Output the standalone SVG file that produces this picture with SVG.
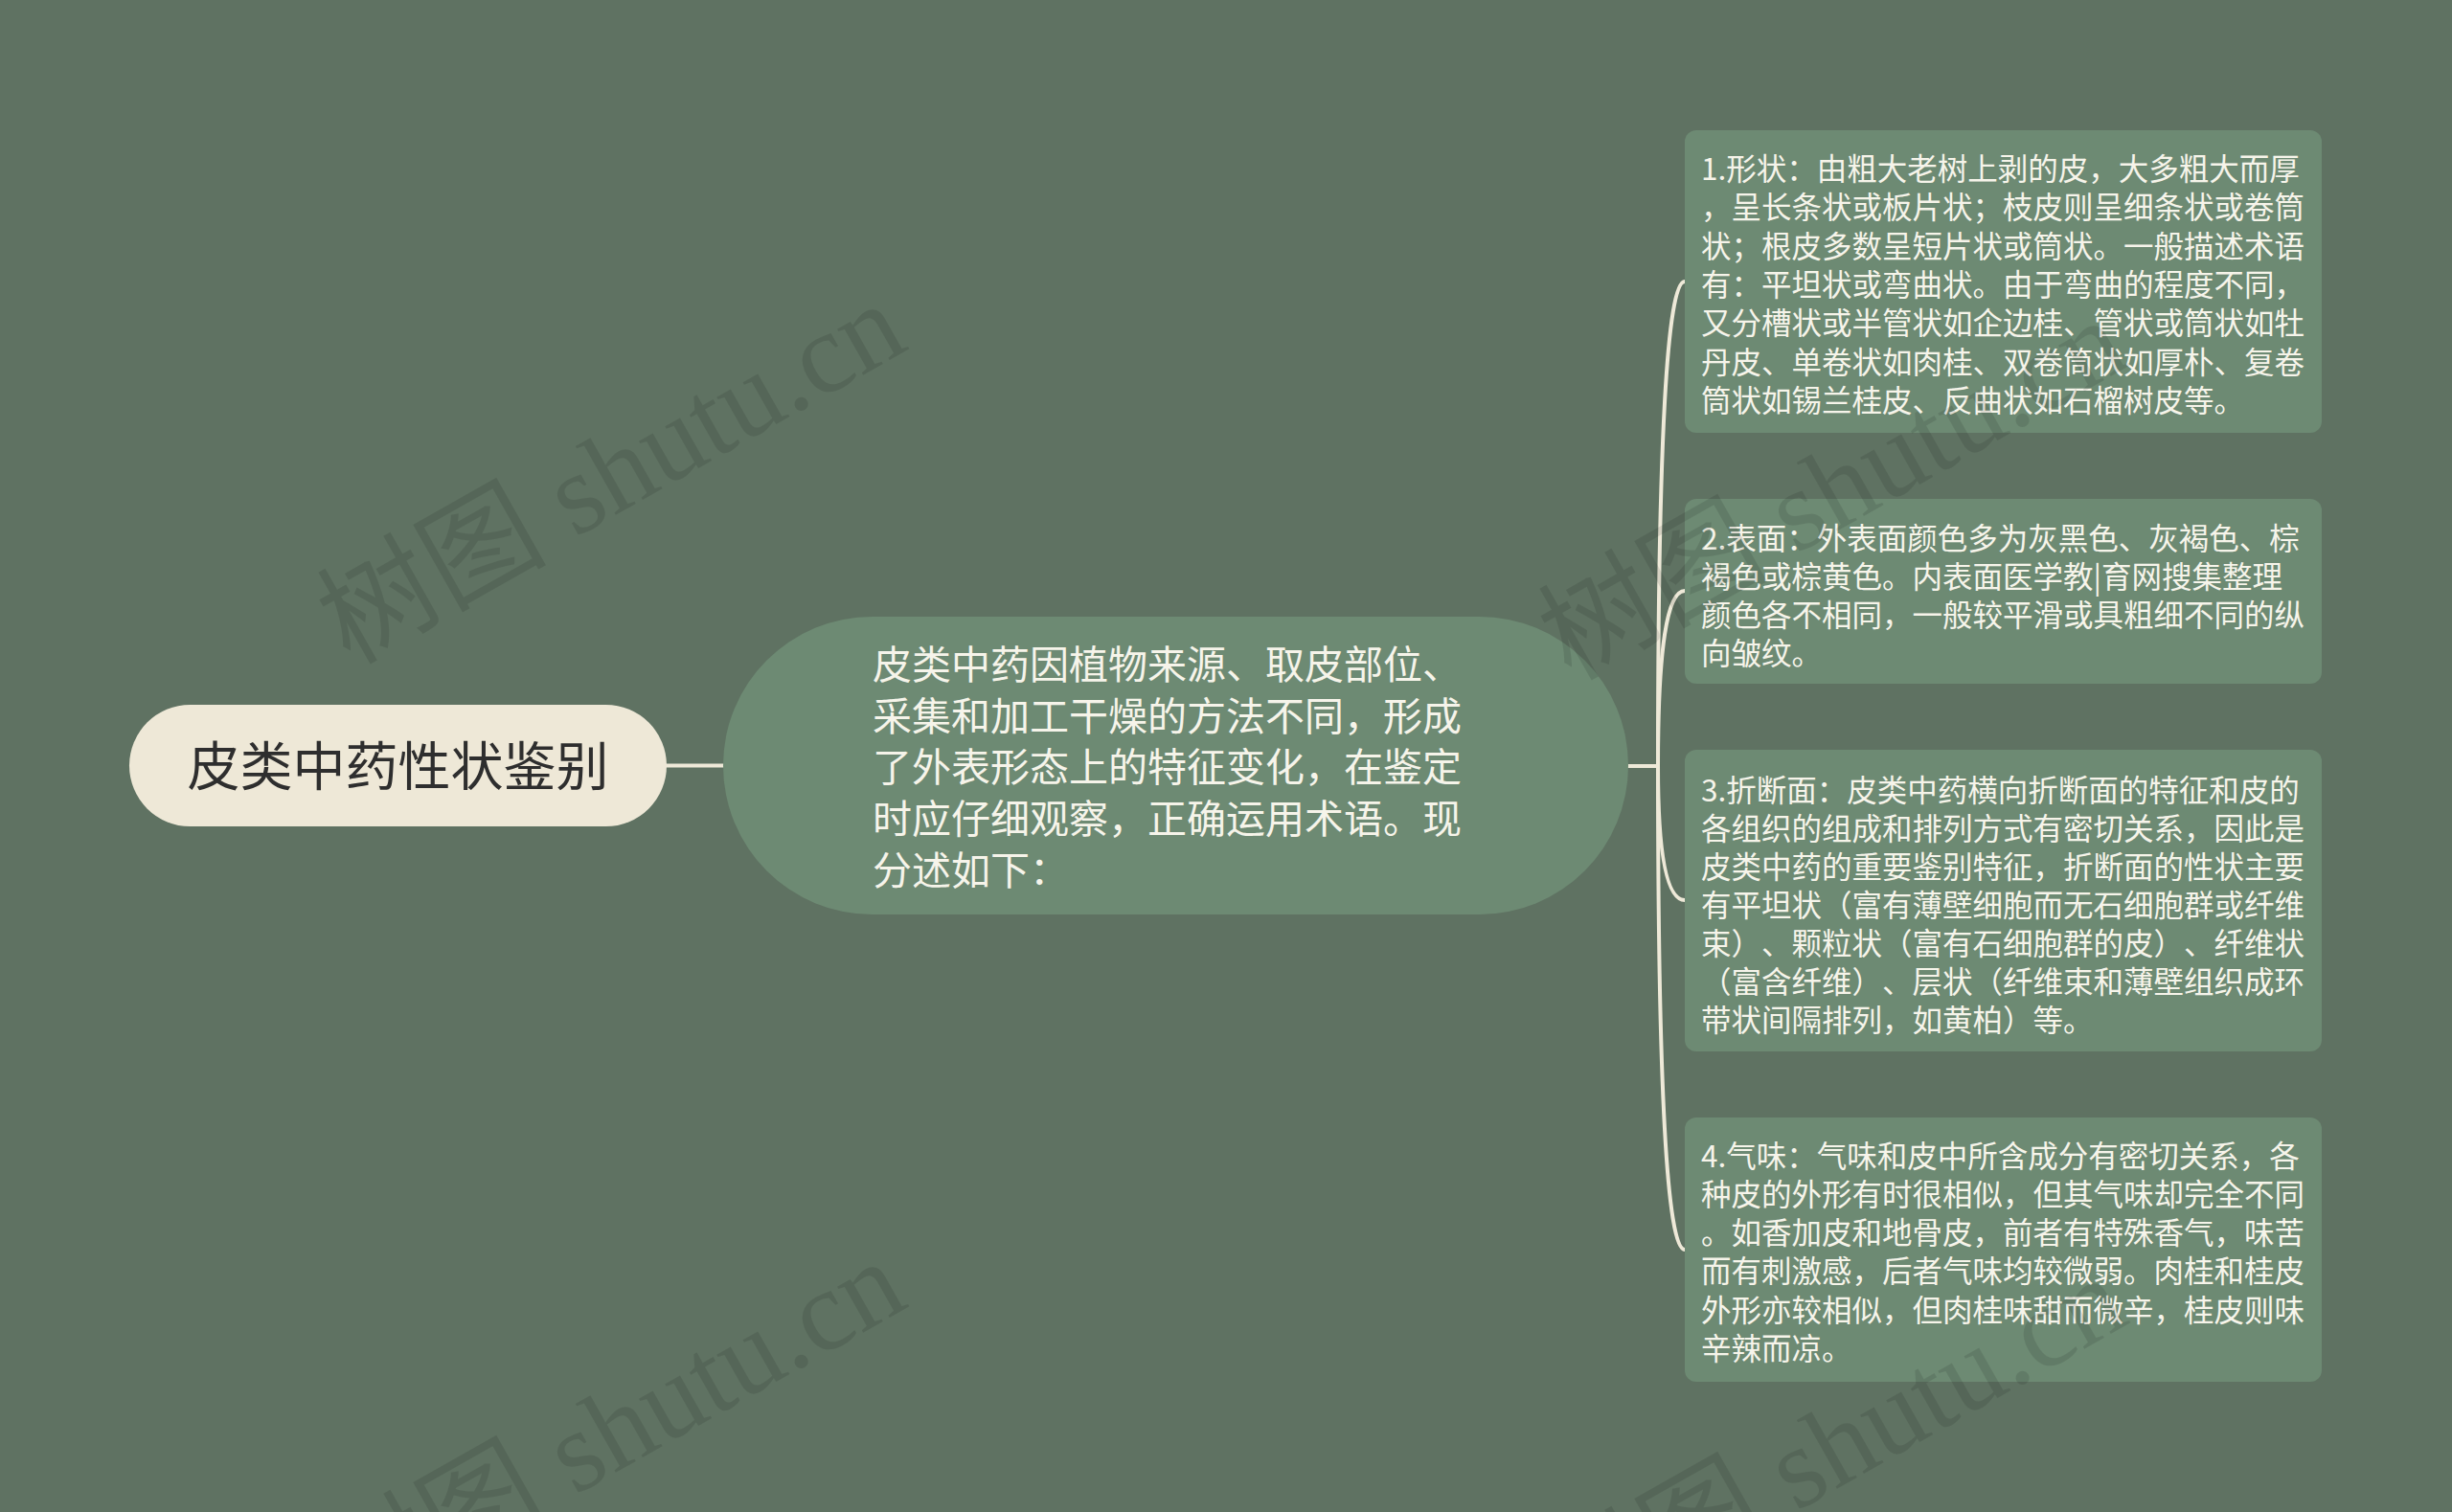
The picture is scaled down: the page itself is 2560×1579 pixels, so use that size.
<svg xmlns="http://www.w3.org/2000/svg" width="2560" height="1579" viewBox="0 0 2560 1579">
<style>
.bg{fill:#5F7262}
.link{fill:none;stroke:#EEE9D8;stroke-width:4;stroke-linecap:round}
.root{fill:#EEE8D7}
text{text-spacing-trim:space-all}
.rootText{font-family:"Noto Sans CJK SC","Noto Sans",sans-serif;font-size:55px;fill:#2E2E2E}
.mid{fill:#6D8A73}
.midText{font-family:"Noto Sans CJK SC","Noto Sans",sans-serif;font-size:41px;fill:#F6F4EA}
.leaf{fill:#6D8A73}
.leafText{font-family:"Noto Sans CJK SC","Noto Sans",sans-serif;font-size:31.5px;fill:#F6F4EA}
.wm{font-family:"Liberation Serif","Noto Sans CJK SC",serif;font-size:120px;fill:#000;fill-opacity:0.1}
</style>
<rect class="bg" x="0" y="0" width="2560" height="1579"/>
<g id="connectors">
  <path class="link" d="M696 799.5 H755"/>
  <path class="link" d="M1700 800 H1731"/>
  <path class="link" d="M1731 800 Q1731 294 1759 294"/>
  <path class="link" d="M1731 800 Q1731 617 1759 617"/>
  <path class="link" d="M1731 800 Q1731 940 1759 940"/>
  <path class="link" d="M1731 800 Q1731 1305 1759 1305"/>
</g>
<g id="root">
  <rect class="root" x="135" y="736" width="561" height="127" rx="63.5"/>
  <text class="rootText" x="415.5" y="820" text-anchor="middle">皮类中药性状鉴别</text>
</g>
<g id="center">
  <rect class="mid" x="755" y="644" width="945" height="311" rx="155.5"/>
  <text class="midText">
    <tspan x="911" y="709">皮类中药因植物来源、取皮部位、</tspan>
    <tspan x="911" y="763">采集和加工干燥的方法不同，形成</tspan>
    <tspan x="911" y="816">了外表形态上的特征变化，在鉴定</tspan>
    <tspan x="911" y="870">时应仔细观察，正确运用术语。现</tspan>
    <tspan x="911" y="924">分述如下：</tspan>
  </text>
</g>
<g id="leaf1">
  <rect class="leaf" x="1759" y="136" width="665" height="316" rx="12"/>
  <text class="leafText">
    <tspan x="1776" y="188">1.形状：由粗大老树上剥的皮，大多粗大而厚</tspan>
    <tspan x="1776" y="228">，呈长条状或板片状；枝皮则呈细条状或卷筒</tspan>
    <tspan x="1776" y="269">状；根皮多数呈短片状或筒状。一般描述术语</tspan>
    <tspan x="1776" y="309">有：平坦状或弯曲状。由于弯曲的程度不同，</tspan>
    <tspan x="1776" y="349">又分槽状或半管状如企边桂、管状或筒状如牡</tspan>
    <tspan x="1776" y="390">丹皮、单卷状如肉桂、双卷筒状如厚朴、复卷</tspan>
    <tspan x="1776" y="430">筒状如锡兰桂皮、反曲状如石榴树皮等。</tspan>
  </text>
</g>
<g id="leaf2">
  <rect class="leaf" x="1759" y="521" width="665" height="193" rx="12"/>
  <text class="leafText">
    <tspan x="1776" y="574">2.表面：外表面颜色多为灰黑色、灰褐色、棕</tspan>
    <tspan x="1776" y="614">褐色或棕黄色。内表面医学教|育网搜集整理</tspan>
    <tspan x="1776" y="654">颜色各不相同，一般较平滑或具粗细不同的纵</tspan>
    <tspan x="1776" y="694">向皱纹。</tspan>
  </text>
</g>
<g id="leaf3">
  <rect class="leaf" x="1759" y="783" width="665" height="315" rx="12"/>
  <text class="leafText">
    <tspan x="1776" y="837">3.折断面：皮类中药横向折断面的特征和皮的</tspan>
    <tspan x="1776" y="877">各组织的组成和排列方式有密切关系，因此是</tspan>
    <tspan x="1776" y="917">皮类中药的重要鉴别特征，折断面的性状主要</tspan>
    <tspan x="1776" y="957">有平坦状（富有薄壁细胞而无石细胞群或纤维</tspan>
    <tspan x="1776" y="997">束）、颗粒状（富有石细胞群的皮）、纤维状</tspan>
    <tspan x="1776" y="1037">（富含纤维）、层状（纤维束和薄壁组织成环</tspan>
    <tspan x="1776" y="1077">带状间隔排列，如黄柏）等。</tspan>
  </text>
</g>
<g id="leaf4">
  <rect class="leaf" x="1759" y="1167" width="665" height="276" rx="12"/>
  <text class="leafText">
    <tspan x="1776" y="1219">4.气味：气味和皮中所含成分有密切关系，各</tspan>
    <tspan x="1776" y="1259">种皮的外形有时很相似，但其气味却完全不同</tspan>
    <tspan x="1776" y="1299">。如香加皮和地骨皮，前者有特殊香气，味苦</tspan>
    <tspan x="1776" y="1339">而有刺激感，后者气味均较微弱。肉桂和桂皮</tspan>
    <tspan x="1776" y="1380">外形亦较相似，但肉桂味甜而微辛，桂皮则味</tspan>
    <tspan x="1776" y="1420">辛辣而凉。</tspan>
  </text>
</g>
<g id="watermarks">
  <text class="wm" x="365" y="695" transform="rotate(-29.5 365 695)">树图 shutu.cn</text>
  <text class="wm" x="1640" y="712" transform="rotate(-29.5 1640 712)">树图 shutu.cn</text>
  <text class="wm" x="365" y="1695" transform="rotate(-29.5 365 1695)">树图 shutu.cn</text>
  <text class="wm" x="1640" y="1712" transform="rotate(-29.5 1640 1712)">树图 shutu.cn</text>
</g>
</svg>
